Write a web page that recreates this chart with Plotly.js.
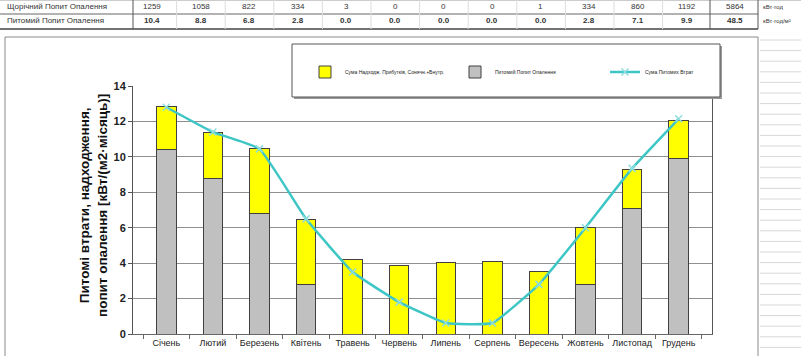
<!DOCTYPE html>
<html><head><meta charset="utf-8">
<script src="https://cdn.plot.ly/plotly-3.0.1.min.js"></script>
<style>html,body{margin:0;padding:0;background:#fff;}#c{width:801px;height:356px;}</style>
</head><body><div id="c"></div>
<script>
const months = ['Січень','Лютий','Березень','Квітень','Травень','Червень','Липень','Серпень','Вересень','Жовтень','Листопад','Грудень'];
const annualDemand = [1259,1058,822,334,3,0,0,0,1,334,860,1192];
const annualTotal = 5864;
const specificDemand = [10.4,8.8,6.8,2.8,0.0,0.0,0.0,0.0,0.0,2.8,7.1,9.9];
const specificTotal = 48.5;
const gains = [2.45,2.6,3.7,3.65,4.2,3.85,4.05,4.1,3.55,3.2,2.2,2.15];
const losses = [12.8,11.4,10.45,6.5,3.5,1.8,0.62,0.62,2.8,6.0,9.35,12.15];
const rowLabels = ['Щорічний Попит Опалення','Питомий Попит Опалення'];
const units = ['кВт·год','кВт·год/м²'];
const seriesNames = ['Сума Надходж. Прибутків, Сонячн.+Внутр.','Питомий Попит Опалення','Сума Питомих Втрат'];

const W = 801, H = 356, L = 133, R = 712, T = 86, B = 334;
const pw = R - L, ph = B - T;
const px = x => (x - L) / pw;
const py = y => (B - y) / ph;
const FONT = 'Arial, "Liberation Sans", sans-serif';

const traces = [
  {type:'bar', x:months, y:specificDemand, name:seriesNames[1], legendrank:2,
   marker:{color:'#c0c0c0', line:{color:'#404040', width:1}}, width:0.42},
  {type:'bar', x:months, y:gains, name:seriesNames[0], legendrank:1,
   marker:{color:'#ffff00', line:{color:'#404040', width:1}}, width:0.42},
  {type:'scatter', mode:'lines+markers', x:months, y:losses, name:seriesNames[2], legendrank:3,
   line:{color:'#3ec6c6', width:2.5, shape:'spline', smoothing:0.35},
   marker:{symbol:'x-thin', size:7, color:'#8fdede', line:{color:'#8fdede', width:1.5}}}
];

const shapes = [];
const annotations = [];
for (let k = 0; k < 31; k++) {
  const y = 40 + 10.6 * k;
  shapes.push({type:'line', xref:'paper', yref:'paper', x0:px(760), x1:px(801), y0:py(y), y1:py(y), line:{color:'#d8d8d8', width:1}, layer:'below'});
}
shapes.push({type:'rect', xref:'paper', yref:'paper', x0:px(5), x1:px(758), y0:py(362), y1:py(37), line:{color:'#8a8a8a', width:1}, layer:'below'});
shapes.push({type:'rect', xref:'paper', yref:'paper', x0:px(294), x1:px(722), y0:py(99), y1:py(46), line:{width:0}, fillcolor:'#9a9a9a', layer:'above'});
shapes.push({type:'rect', xref:'paper', yref:'paper', x0:px(292), x1:px(720), y0:py(97), y1:py(44), line:{color:'#555', width:1}, fillcolor:'#fff', layer:'above'});
shapes.push({type:'line', xref:'paper', yref:'paper', x0:px(0), x1:px(758), y0:py(14), y1:py(14), line:{color:'#666', width:1}});
shapes.push({type:'line', xref:'paper', yref:'paper', x0:px(0), x1:px(758), y0:py(29), y1:py(29), line:{color:'#444', width:1.5}});
shapes.push({type:'line', xref:'paper', yref:'paper', x0:px(0), x1:px(801), y0:py(0.5), y1:py(0.5), line:{color:'#ccc', width:1}});
[133, 710, 758].forEach(x => shapes.push({type:'line', xref:'paper', yref:'paper', x0:px(x), x1:px(x), y0:py(0), y1:py(29), line:{color:'#555', width:1}}));
for (let i = 1; i < 12; i++) {
  const x = 128 + 48.6 * i;
  shapes.push({type:'line', xref:'paper', yref:'paper', x0:px(x), x1:px(x), y0:py(0), y1:py(29), line:{color:'#dddddd', width:1}});
}
const tf = {family:FONT, size:8, color:'#333'};
annotations.push({xref:'paper', yref:'paper', x:px(5), y:py(7), xanchor:'left', yanchor:'middle', text:rowLabels[0], showarrow:false, font:tf});
annotations.push({xref:'paper', yref:'paper', x:px(5), y:py(21), xanchor:'left', yanchor:'middle', text:rowLabels[1], showarrow:false, font:tf});
months.forEach((m, i) => {
  const x = 152 + 48.6 * i;
  annotations.push({xref:'paper', yref:'paper', x:px(x), y:py(7), xanchor:'center', yanchor:'middle', text:String(annualDemand[i]), showarrow:false, font:tf});
  annotations.push({xref:'paper', yref:'paper', x:px(x), y:py(21), xanchor:'center', yanchor:'middle', text:'<b>' + specificDemand[i].toFixed(1) + '</b>', showarrow:false, font:tf});
});
annotations.push({xref:'paper', yref:'paper', x:px(735), y:py(7), xanchor:'center', yanchor:'middle', text:String(annualTotal), showarrow:false, font:tf});
annotations.push({xref:'paper', yref:'paper', x:px(735), y:py(21), xanchor:'center', yanchor:'middle', text:'<b>' + specificTotal.toFixed(1) + '</b>', showarrow:false, font:tf});
annotations.push({xref:'paper', yref:'paper', x:px(761), y:py(7), xanchor:'left', yanchor:'middle', text:units[0], showarrow:false, font:{family:FONT, size:6, color:'#333'}});
annotations.push({xref:'paper', yref:'paper', x:px(761), y:py(21), xanchor:'left', yanchor:'middle', text:units[1], showarrow:false, font:{family:FONT, size:6, color:'#333'}});
annotations.push({xref:'paper', yref:'paper', x:px(93), y:py(206), xanchor:'center', yanchor:'middle', textangle:-90,
  text:'<b>Питомі втрати, надходження,<br>попит опалення [кВт/(м2·місяць)]</b>', showarrow:false,
  font:{family:FONT, size:13.5, color:'#111'}});

const layout = {
  width:W, height:H,
  margin:{l:L, r:W - R, t:T, b:H - B, pad:0},
  paper_bgcolor:'#fff', plot_bgcolor:'#fff',
  barmode:'stack',
  showlegend:true,
  legend:{orientation:'h', x:px(305), y:py(72), xanchor:'left', yanchor:'middle',
    font:{family:FONT, size:5, color:'#222'}, bgcolor:'rgba(0,0,0,0)', borderwidth:0,
    entrywidth:105, entrywidthmode:'pixels', itemwidth:30, traceorder:'normal'},
  xaxis:{type:'category', showline:true, linecolor:'#666', linewidth:1, ticks:'outside', tickson:'boundaries',
    ticklen:4, tickcolor:'#666', tickangle:0, tickfont:{family:FONT, size:9, color:'#222'}, showgrid:false, fixedrange:true},
  yaxis:{range:[0,14], dtick:2, showline:true, linecolor:'#555', linewidth:1, mirror:true, ticks:'outside', ticklen:4,
    tickcolor:'#555', tickfont:{family:FONT, size:11, color:'#222', weight:'bold'}, showgrid:true, gridcolor:'#8f8f8f',
    gridwidth:1, zeroline:false, fixedrange:true},
  shapes:shapes, annotations:annotations
};
Plotly.newPlot('c', traces, layout, {staticPlot:true, displayModeBar:false});
</script></body></html>
